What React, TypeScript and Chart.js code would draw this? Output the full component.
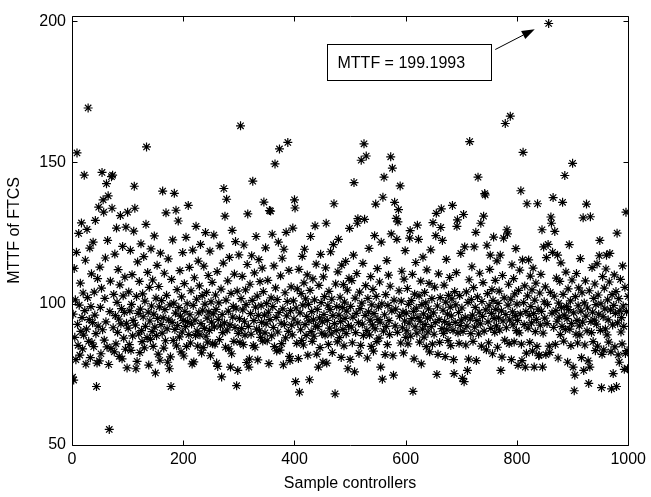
import { useEffect, useRef } from "react";
import { Chart, registerables } from "chart.js";

Chart.register(...registerables);

// MTTF of FTCS for sample controllers 1..1000, in blocks of 100
const s0 = [
  74, 96.3, 73, 112.5, 88.1, 101.4, 80.2, 118.2, 153.4, 92.7, 85.3, 124.9, 99.5, 81.8, 107.3, 90.2, 128.6, 95.1, 84.0, 103.8,
  88.9, 145.5, 97.6, 115.4, 78.6, 91.0, 126.3, 102.2, 169.3, 86.7, 94.4, 119.7, 80.9, 99.0, 110.6, 86.2, 93.3, 121.8, 84.8, 104.1,
  96.0, 129.5, 89.4, 70.7, 79, 108.9, 92.1, 134.2, 79.8, 113.0, 98.7, 82.3, 105.5, 146.5, 90.8, 136.8, 132.4, 87.1, 101.9, 116.2,
  93.6, 142.5, 84.7, 122.4, 138.2, 78.5, 55.5, 97.2, 108.0, 84.1, 145, 133.8, 145.5, 91.5, 103.3, 83.0, 117.6, 95.8, 85.8, 126.8,
  100.5, 89.9, 112.1, 94.6, 81.4, 106.7, 131.2, 92.9, 98.3, 80.5, 120.3, 102.8, 87.8, 96.9, 109.4, 83.9, 127.1, 93.1, 77.3, 132.4,
];
const s1 = [
  91.4, 104.2, 85.5, 97.5, 118.9, 83.5, 99.8, 110.3, 88.6, 94.1, 125.7, 141.6, 133.8, 92.4, 77, 102.6, 79.6, 114.8, 96.6, 89.3,
  107.9, 82.7, 98.1, 121.2, 90.5, 86.6, 103.5, 95.4, 116.7, 84.4, 100.9, 92.0, 128.1, 155.5, 88.0, 111.1, 97.0, 78.3, 105.8, 93.9,
  87.4, 119.4, 99.2, 90.1, 108.4, 84.9, 96.3, 124.0, 91.7, 75.5, 102.0, 88.7, 113.6, 94.8, 82.2, 106.1, 98.9, 80.0, 117.9, 92.6,
  101.1, 89.6, 139.9, 95.0, 84.3, 110.8, 97.9, 86.9, 132.2, 103.0, 91.1, 79.3, 115.9, 94.3, 77, 99.6, 81.2, 70.7, 108.6, 93.4,
  122.6, 87.0, 100.2, 139.1, 90.9, 96.7, 133.1, 85.1, 105.0, 92.3, 129.3, 98.6, 88.3, 111.7, 95.6, 83.0, 102.4, 90.0, 118.1, 94.0,
];
const s2 = [
  81.5, 107.1, 97.3, 91.9, 123.5, 84.9, 100.0, 93.7, 134.8, 89.1, 112.9, 96.1, 86.1, 104.6, 92.8, 78.7, 119.0, 99.4, 79.4, 109.2,
  94.2, 88.8, 127.4, 101.6, 90.3, 85.0, 115.1, 96.8, 106.3, 89.0, 121.0, 93.0, 82.6, 102.9, 97.7, 84.5, 113.3, 91.3, 99.9, 125.2,
  88.5, 104.0, 94.9, 86.4, 110.0, 97.1, 90.6, 118.6, 81.6, 100.7, 93.5, 107.6, 85.8, 96.4, 124.3, 91.8, 85.7, 103.1, 98.0, 79.0,
  111.4, 77.8, 94.5, 100.3, 87.3, 120.5, 92.2, 105.2, 74.1, 96.2, 89.8, 114.4, 140.8, 93.2, 131, 84.6, 101.3, 137, 90.7, 108.1,
  97.4, 84.0, 116.4, 92.5, 77.6, 103.7, 82.3, 126.0, 95.3, 99.1, 86.7, 110.5, 91.6, 122.0, 98.4, 71, 104.5, 76.4, 89.5, 117.3,
];
const s3 = [
  94.7, 86.3, 163, 101.8, 91.2, 109.7, 97.8, 85.5, 120.8, 93.8, 88.9, 104.9, 99.7, 79.2, 113.9, 131.8, 92.0, 77.6, 80.4, 106.9,
  96.5, 89.2, 117.0, 101.2, 143.4, 85.2, 94.0, 110.9, 84.6, 98.8, 123.8, 91.0, 102.7, 80.1, 95.9, 115.6, 90.4, 107.8, 88.1, 99.3,
  93.4, 112.6, 86.8, 104.3, 136, 96.0, 89.7, 119.8, 92.9, 100.1, 86.9, 108.3, 97.0, 78.8, 133, 94.4, 132.8, 102.1, 88.6, 124.6,
  99.0, 91.6, 113.4, 84.8, 149.5, 105.6, 95.2, 83.3, 101.5, 90.0, 121.8, 96.9, 154.8, 83.6, 109.9, 93.1, 85.9, 116.1, 98.2, 78.4,
  119.3, 92.7, 103.9, 87.9, 125.3, 95.7, 100.8, 157.1, 90.2, 111.8, 81.4, 79.9, 97.6, 106.0, 92.4, 89.0, 126.8, 101.0, 94.6, 136.8,
];
const s4 = [
  133.9, 72.4, 98.5, 86.0, 105.3, 93.2, 80.6, 112.2, 68.7, 96.8, 90.8, 103.6, 87.0, 116.8, 99.5, 85.4, 107.4, 119.3, 92.6, 101.7,
  88.8, 95.5, 110.2, 81.8, 99.8, 93.9, 73.1, 104.7, 123.8, 90.1, 97.2, 86.7, 108.8, 94.3, 88.5, 101.4, 127.6, 92.1, 114.0, 82.2,
  98.0, 91.9, 77.6, 106.5, 95.0, 84.5, 117.5, 100.4, 89.6, 93.6, 79.3, 109.5, 96.2, 102.5, 88.9, 112.7, 128.5, 79, 94.1, 99.3,
  85.6, 104.4, 91.4, 97.9, 118.4, 89.3, 101.6, 82.7, 95.8, 120.9, 135.4, 93.0, 68.1, 107.0, 90.5, 99.0, 86.5, 111.3, 122.8, 96.0,
  88.0, 102.3, 93.7, 81.0, 113.7, 98.6, 90.9, 106.8, 85.1, 100.6, 94.8, 115.0, 89.4, 97.4, 104.8, 77, 92.3, 109.0, 126.7, 80.3,
];
const s5 = [
  99.1, 91.7, 108.2, 86.2, 95.3, 117.2, 142.9, 75.9, 102.0, 89.8, 96.6, 110.7, 128.5, 130.1, 93.3, 82.4, 104.1, 98.3, 85.3, 150.8,
  100.2, 92.8, 114.3, 88.7, 156.6, 129.9, 95.9, 106.4, 152.3, 90.6, 80.8, 101.9, 97.1, 119.6, 89.0, 94.2, 109.6, 84.9, 99.6, 92.5,
  105.1, 83.2, 96.5, 124.1, 91.1, 135.3, 102.6, 86.6, 112.4, 94.5, 98.9, 87.8, 107.7, 93.5, 77.6, 121.8, 100.0, 73.3, 137.7, 90.3,
  144.8, 96.1, 82.0, 103.2, 92.0, 115.3, 85.5, 99.4, 110.1, 94.0, 89.1, 106.2, 152, 124.7, 97.5, 148, 81.6, 74.7, 101.3, 135.9,
  92.2, 98.1, 130.2, 122.8, 89.9, 129, 133.3, 104.6, 95.6, 141.7, 86.1, 100.9, 111.5, 91.5, 97.0, 82.6, 108.7, 93.9, 118.8, 88.1,
];
const s6 = [
  96.7, 90.4, 105.4, 85.8, 99.8, 93.1, 123.2, 125.9, 88.5, 101.1, 94.7, 110.4, 69, 97.3, 80.5, 103.4, 91.8, 114.6, 98.4, 89.6,
  127.8, 95.1, 122.8, 102.8, 86.4, 93.8, 108.0, 78.7, 99.7, 91.0, 116.5, 96.4, 88.2, 104.0, 92.6, 100.3, 84.8, 112.0, 94.9, 90.0,
  98.2, 107.2, 83.0, 95.4, 119.1, 91.9, 101.8, 85.7, 128.7, 96.8, 89.2, 105.9, 93.3, 124.1, 132, 75, 99.2, 82.1, 110.6, 94.4,
  86.3, 102.2, 127, 133.6, 91.2, 122.4, 97.7, 89.5, 106.6, 93.7, 81.3, 100.6, 115.7, 90.8, 96.3, 87.0, 103.0, 92.7, 109.3, 98.8,
  85.2, 95.7, 101.7, 134.8, 90.6, 80.2, 75.3, 104.3, 93.4, 99.6, 111.0, 127.4, 129.7, 89.7, 96.9, 86.0, 102.9, 92.3, 117.8, 94.2,
];
const s7 = [
  98.5, 73.6, 90.2, 131.6, 72.4, 120.1, 95.2, 85.4, 104.2, 92.1, 76.4, 100.5, 80.4, 108.5, 157.4, 94.6, 89.4, 101.5, 113.1, 96.0,
  86.7, 105.7, 120.1, 91.7, 98.7, 125.3, 79.9, 94.0, 102.4, 144.8, 89.3, 97.0, 110.8, 92.9, 128.5, 85.0, 100.8, 95.5, 107.5, 131,
  90.3, 139, 138.5, 97.8, 83.7, 120.7, 103.6, 93.6, 86.2, 99.3, 112.2, 117.2, 91.3, 96.6, 105.0, 82.3, 101.2, 123.6, 94.8, 89.9,
  108.3, 98.0, 92.2, 115.2, 84.6, 100.1, 95.0, 104.5, 90.7, 117.2, 76.4, 97.5, 81.1, 110.0, 93.9, 123.2, 102.1, 87.1, 163.8, 96.2,
  91.5, 126.2, 124.7, 99.5, 106.9, 85.9, 94.3, 166.4, 101.6, 80.2, 113.8, 97.1, 92.5, 108.9, 86.5, 103.5, 95.8, 119.5, 90.5, 99.9,
];
const s8 = [
  94.1, 78.2, 104.7, 89.7, 111.9, 96.4, 140, 85.7, 79.9, 115.5, 153.6, 100.4, 92.6, 106.3, 77.6, 97.2, 82.5, 135.4, 102.8, 91.4,
  115.5, 95.9, 86.3, 109.8, 99.0, 93.2, 104.9, 83.2, 112.6, 96.5, 77.6, 101.3, 90.1, 107.3, 94.5, 84.9, 135.4, 98.1, 81.6, 81.8,
  103.8, 92.4, 110.4, 97.3, 126.2, 77.6, 89.6, 120.1, 100.7, 94.9, 106.0, 82.0, 116.3, 93.0, 99.8, 121, 199.1993, 85, 82.8, 104.0,
  130.7, 128.5, 96.7, 118.2, 137.6, 91.6, 102.7, 125.6, 85.6, 97.6, 109.1, 93.8, 117.2, 80.8, 100.2, 95.3, 107.9, 89.1, 114.5, 98.6,
  92.0, 135.9, 103.3, 86.8, 96.0, 145.4, 90.9, 111.2, 99.1, 94.7, 79.3, 105.3, 97.9, 120.9, 91.0, 101.0, 85.2, 93, 108.4, 149.7,
];
const s9 = [
  77.6, 96.8, 69.2, 74.7, 102.5, 89.2, 110.7, 94.1, 86.1, 99.3, 105.6, 92.2, 89, 116.0, 97.4, 80.9, 103.9, 93.5, 130.4, 76.4,
  100.3, 85.4, 108.1, 95.6, 135.3, 90.4, 98.5, 79.8, 71.8, 104.6, 77.6, 130.8, 93.7, 89.8, 112.8, 97.0, 86.6, 101.9, 94.2, 107.0,
  83.4, 99.7, 92.8, 114.1, 85.0, 103.1, 96.3, 117, 122.4, 90.6, 100.0, 70.3, 82.1, 109.6, 95.4, 83.7, 105.5, 98.2, 91.1, 112.3,
  117.2, 89.0, 101.4, 94.3, 86.4, 107.7, 117.8, 97.8, 83.0, 69.9, 103.2, 92.5, 75.3, 99.4, 110.2, 84.7, 96.6, 104.3, 70.7, 125,
  93.2, 81.9, 101.8, 79.3, 97.5, 108.6, 90.0, 95.1, 85.8, 113.4, 99.2, 92.0, 76.8, 105.8, 82.4, 132.4, 97.2, 83.4, 77, 102.6,
];

const mttf = [...s0, ...s1, ...s2, ...s3, ...s4, ...s5, ...s6, ...s7, ...s8, ...s9];
const xTicks = [0, 200, 400, 600, 800, 1000];
const yTicks = [50, 100, 150, 200];
const xTitle = "Sample controllers";
const yTitle = "MTTF of FTCS";
const noteText = "MTTF = 199.1993";

const FONT = '"Liberation Sans", Arial, Helvetica, sans-serif';

const framePlugin = {
  id: "frameTicks",
  afterDraw(chart: any) {
    const { ctx, chartArea: a, scales } = chart;
    const x = scales.x;
    const y = scales.y;
    ctx.save();
    ctx.strokeStyle = "#000";
    ctx.lineWidth = 1;
    const L = Math.round(a.left) + 0.5;
    const R = Math.round(a.right) + 0.5;
    const T = Math.round(a.top) + 0.5;
    const B = Math.round(a.bottom) + 0.5;
    ctx.beginPath();
    ctx.rect(L, T, R - L, B - T);
    const tl = 5;
    xTicks.forEach((v) => {
      const px = Math.round(x.getPixelForValue(v)) + 0.5;
      ctx.moveTo(px, B);
      ctx.lineTo(px, B - tl);
      ctx.moveTo(px, T);
      ctx.lineTo(px, T + tl);
    });
    yTicks.forEach((v) => {
      const py = Math.round(y.getPixelForValue(v)) + 0.5;
      ctx.moveTo(L, py);
      ctx.lineTo(L + tl, py);
      ctx.moveTo(R, py);
      ctx.lineTo(R - tl, py);
    });
    ctx.stroke();

    // annotation box with arrow pointing at the maximum
    const X = (v: number) => x.getPixelForValue(v);
    const Y = (v: number) => y.getPixelForValue(v);
    const bx0 = Math.round(X(458)) + 0.5;
    const bx1 = Math.round(X(754)) + 0.5;
    const by0 = Math.round(Y(192)) + 0.5;
    const by1 = Math.round(Y(179.3)) + 0.5;
    ctx.fillStyle = "#fff";
    ctx.fillRect(bx0, by0, bx1 - bx0, by1 - by0);
    ctx.strokeRect(bx0, by0, bx1 - bx0, by1 - by0);
    ctx.fillStyle = "#000";
    ctx.font = "16px " + FONT;
    ctx.textBaseline = "middle";
    ctx.textAlign = "left";
    ctx.fillText(noteText, bx0 + 10, (by0 + by1) / 2 + 1);

    const tx = X(761), ty = Y(190);
    const hx = X(832), hy = Y(197.2);
    const ang = Math.atan2(hy - ty, hx - tx);
    const hl = 13, hw = 4.5;
    const bxp = hx - hl * Math.cos(ang), byp = hy - hl * Math.sin(ang);
    ctx.beginPath();
    ctx.moveTo(tx, ty);
    ctx.lineTo(bxp, byp);
    ctx.stroke();
    ctx.beginPath();
    ctx.moveTo(hx, hy);
    ctx.lineTo(bxp + hw * Math.sin(ang), byp - hw * Math.cos(ang));
    ctx.lineTo(bxp - hw * Math.sin(ang), byp + hw * Math.cos(ang));
    ctx.closePath();
    ctx.fill();
    ctx.restore();
  },
};

export default function App() {
  const ref = useRef<HTMLCanvasElement | null>(null);
  useEffect(() => {
    if (!ref.current) return;
    const chart = new Chart(ref.current, {
      type: "scatter",
      data: {
        datasets: [
          {
            data: mttf.map((v, i) => ({ x: i + 1, y: v })),
            pointStyle: "star",
            radius: 4.5,
            borderColor: "#000",
            backgroundColor: "#000",
            borderWidth: 1.2,
          },
        ],
      },
      options: {
        responsive: false,
        animation: false,
        events: [],
        layout: { padding: { left: 0, right: 19, top: 4, bottom: 0 } },
        plugins: { legend: { display: false }, tooltip: { enabled: false } },
        scales: {
          x: {
            type: "linear",
            min: 0,
            max: 1000,
            afterBuildTicks: (s: any) => {
              s.ticks = xTicks.map((v) => ({ value: v }));
            },
            afterFit: (s: any) => {
              s.height = 52;
            },
            grid: { display: false, drawTicks: false },
            border: { display: false },
            ticks: {
              color: "#000",
              font: { family: FONT, size: 16 },
              padding: 5,
              maxRotation: 0,
              callback: (v: any) => String(v),
            },
            title: { display: true, text: xTitle, color: "#000", font: { family: FONT, size: 16 }, padding: { top: 0, bottom: 4 } },
          },
          y: {
            type: "linear",
            min: 50,
            max: 202,
            afterBuildTicks: (s: any) => {
              s.ticks = yTicks.map((v) => ({ value: v }));
            },
            afterFit: (s: any) => {
              s.width = 72;
            },
            grid: { display: false, drawTicks: false },
            border: { display: false },
            ticks: { color: "#000", font: { family: FONT, size: 16 }, padding: 6, callback: (v: any) => String(v) },
            title: { display: true, text: yTitle, color: "#000", font: { family: FONT, size: 16 }, padding: { top: 5, bottom: 0 } },
          },
        },
      },
      plugins: [framePlugin],
    } as any);
    return () => chart.destroy();
  }, []);
  return (
    <div style={{ position: "absolute", left: 0, top: 0, width: 651, height: 497, background: "#fff" }}>
      <canvas ref={ref} width={651} height={497} />
    </div>
  );
}
